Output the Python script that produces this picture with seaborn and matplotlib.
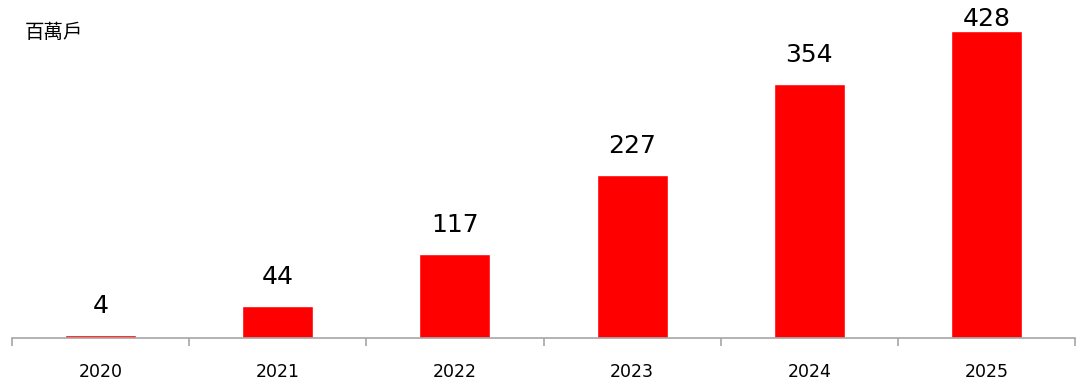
import matplotlib
matplotlib.use("Agg")
import matplotlib.pyplot as plt
import seaborn as sns
import numpy as np
import pandas as pd

years = ["2020", "2021", "2022", "2023", "2024", "2025"]
values = [4, 44, 117, 227, 354, 428]
unit_label = "百萬戶"

sns.set_style("white")
plt.rcParams['font.family'] = ['Noto Sans CJK TC', 'DejaVu Sans']

df = pd.DataFrame({"year": years, "value": values})

fig = plt.figure(figsize=(10.85, 3.92), dpi=100)
ax = fig.add_axes([12/1085, 54/392, (1075-12)/1085, 338/392])

sns.barplot(data=df, x="year", y="value", color="#ff0000", saturation=1,
            width=0.4, ax=ax)

ax.set_xlim(-0.5, len(years) - 0.5)
ax.set_ylim(0, 471)
ax.set_xlabel("")
ax.set_ylabel("")
ax.set_yticks([])

for s in ["top", "right", "left"]:
    ax.spines[s].set_visible(False)
ax.spines["bottom"].set_color("#a6a6a6")
ax.spines["bottom"].set_linewidth(1.2)

ax.set_xticks(np.arange(-0.5, len(years)), minor=True)
ax.tick_params(axis="x", which="minor", bottom=True, length=6, width=1.2,
               color="#a6a6a6", direction="out")
ax.tick_params(axis="x", which="major", bottom=True, length=0, pad=18,
               labelsize=12.5, labelcolor="#000000")
for lbl in ax.get_xticklabels():
    lbl.set_family(["DejaVu Sans"])

ymax = ax.get_ylim()[1]
for i, v in enumerate(values):
    y = min(v + 24, ymax - 43)
    ax.text(i, y, str(v), ha="center", va="bottom", fontsize=18,
            color="#000000", family=["DejaVu Sans"], clip_on=False)

fig.text(25/1085, 1 - 32/392, unit_label, ha="left", va="center", fontsize=14,
         color="#000000")

fig.savefig("out.png", dpi=100)
